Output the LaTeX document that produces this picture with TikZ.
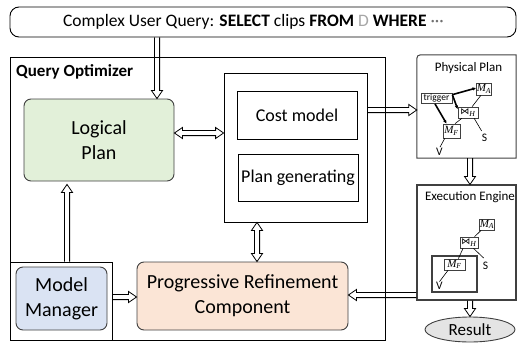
\documentclass[tikz,border=0pt]{standalone}
\usepackage{fontspec}
\setmainfont{Carlito}
\newfontfamily\opfont{Liberation Serif}
\newfontfamily\bowfont{DejaVu Sans}
\usetikzlibrary{calc,arrows.meta,shapes.geometric}

\definecolor{lpgreen}{HTML}{E2F0D9}
\definecolor{mmblue}{HTML}{DAE3F3}
\definecolor{prcorange}{HTML}{FBE5D6}
\definecolor{edge}{HTML}{404040}
\definecolor{resgray}{HTML}{E4E4E4}
\definecolor{faint}{HTML}{A6A6A6}
\definecolor{dotgray}{HTML}{707070}

% operator labels: italic letter with italic subscript
\newcommand{\relname}[2]{{\opfont\itshape #1}\textsubscript{\opfont\itshape #2}}
\newcommand{\hjoin}{{\bowfont\fontsize{9}{10}\selectfont ⋈}\textsubscript{\opfont\itshape H}}

% geometry of the outlined block arrows
\newcommand{\arrhl}{8pt}  % head length
\newcommand{\arrhw}{5.5pt}% head half width
\newcommand{\arrsw}{2.6pt}% shaft half width

% outlined arrow from #1 to #2
\newcommand{\hollowarrow}[2]{%
  \coordinate (ha-s) at (#1);
  \coordinate (ha-t) at (#2);
  \coordinate (ha-b) at ($(ha-t)!\arrhl!(ha-s)$);
  \draw[hollowline]
    ($(ha-s)!\arrsw!90:(ha-t)$) -- ($(ha-b)!\arrsw!90:(ha-t)$)
    -- ($(ha-b)!\arrhw!90:(ha-t)$) -- (ha-t)
    -- ($(ha-b)!\arrhw!-90:(ha-t)$) -- ($(ha-b)!\arrsw!-90:(ha-t)$)
    -- ($(ha-s)!\arrsw!-90:(ha-t)$);
}
% outlined arrow with heads at both ends
\newcommand{\hollowdarrow}[2]{%
  \coordinate (ha-s) at (#1);
  \coordinate (ha-t) at (#2);
  \coordinate (ha-b) at ($(ha-t)!\arrhl!(ha-s)$);
  \coordinate (ha-a) at ($(ha-s)!\arrhl!(ha-t)$);
  \draw[hollowline]
    (ha-s) -- ($(ha-a)!\arrhw!90:(ha-t)$) -- ($(ha-a)!\arrsw!90:(ha-t)$)
    -- ($(ha-b)!\arrsw!90:(ha-t)$) -- ($(ha-b)!\arrhw!90:(ha-t)$)
    -- (ha-t)
    -- ($(ha-b)!\arrhw!-90:(ha-t)$) -- ($(ha-b)!\arrsw!-90:(ha-t)$)
    -- ($(ha-a)!\arrsw!-90:(ha-t)$) -- ($(ha-a)!\arrhw!-90:(ha-t)$)
    -- cycle;
}

\tikzset{
  frame/.style={draw=black, line width=0.8pt, inner sep=0pt},
  roundbox/.style={draw=edge, line width=0.9pt, rounded corners=7pt, align=center, inner sep=0pt},
  bigtext/.style={font=\fontsize{20}{25}\selectfont},
  midtext/.style={font=\fontsize{18}{22}\selectfont},
  smalltitle/.style={font=\fontsize{13}{15}\selectfont, inner sep=0pt},
  hollowline/.style={draw=black, line width=0.8pt, line join=miter},
  tinybox/.style={draw=edge, line width=0.7pt, inner sep=0.3pt, font=\fontsize{11}{12}\selectfont},
  treeline/.style={line width=0.6pt},
  trigline/.style={line width=1.6pt, -{Latex[length=3.5pt,width=3.5pt]}},
  leaf/.style={inner sep=0pt, font=\fontsize{11.5}{13}\selectfont},
}

\begin{document}
\begin{tikzpicture}[x=1pt, y=-1pt]
\useasboundingbox (0,0) rectangle (517,343);

% user query
\node[roundbox, draw=black, rounded corners=9pt, minimum width=506pt, minimum height=30pt,
      font=\fontsize{17.5}{21}\selectfont] (query) at (263,22)
  {Complex User Query: \textbf{SELECT} clips \textbf{FROM} \textcolor{faint}{D} \textbf{WHERE} \textcolor{dotgray}{···}\hspace*{19pt}};

% query optimizer
\node[frame, minimum width=375pt, minimum height=283pt] (qo) at (197.5,198.5) {};
\node[anchor=west, inner sep=0pt, font=\bfseries\fontsize{17}{20}\selectfont] (qolabel) at (16,72) {Query Optimizer};
\node[roundbox, fill=lpgreen, minimum width=150pt, minimum height=82pt, bigtext] (lp) at (99,140) {Logical\\Plan};

\node[frame, minimum width=143pt, minimum height=149pt] (cp) at (295.5,147.5) {};
\node[frame, minimum width=120pt, minimum height=48pt, midtext] (cm) at (297,115) {Cost model};
\node[frame, minimum width=120pt, minimum height=47pt, midtext] (pg) at (298,177.5) {Plan generating};

\node[frame, minimum width=102pt, minimum height=78pt] (mmf) at (61,301) {};
\node[roundbox, fill=mmblue, minimum width=91pt, minimum height=63pt, bigtext] (mm) at (61.5,298.5) {Model\\Manager};
\node[roundbox, fill=prcorange, minimum width=211pt, minimum height=68pt, bigtext] (prc) at (242.5,296) {Progressive Refinement\\Component};

% physical plan
\node[inner sep=0pt, minimum width=99pt, minimum height=103pt] (pp) at (466.5,106.5) {};
\draw[draw=edge, line width=1pt] (pp.south east) -- (pp.south west) -- ([yshift=-8pt]pp.north west)
  .. controls (pp.north west) .. ([xshift=8pt]pp.north west) -- (pp.north east) -- cycle;
\node[smalltitle] (pptitle) at (468.5,68) {Physical Plan};

\node[tinybox, minimum width=31pt, minimum height=10pt, inner sep=0pt, font=\fontsize{9.5}{10}\selectfont] (trig) at (436.5,98.5) {trigger};
\node[tinybox, minimum width=13pt, minimum height=12pt] (pMA) at (484,89) {\relname{M}{A}};
\node[tinybox, minimum width=20pt, minimum height=11pt] (pJ) at (468,112.5) {\hjoin};
\node[tinybox, minimum width=17pt, minimum height=14pt] (pMF) at (451.5,131) {\relname{M}{F}};
\node[leaf] (pS) at (484.5,138) {S};
\node[leaf] (pV) at (439.5,152) {V};

\draw[treeline] ($(pMA.south west)!0.3!(pMA.south east)$) -- ($(pJ.north west)!0.7!(pJ.north east)$);
\draw[treeline] ($(pJ.south west)!0.2!(pJ.south east)$) -- ($(pMF.north west)!0.7!(pMF.north east)$);
\draw[treeline] ($(pJ.south west)!0.8!(pJ.south east)$) -- ([yshift=3pt]pS.north west);
\draw[treeline] ($(pMF.south west)!0.12!(pMF.south east)$) -- ([xshift=0.5pt,yshift=1pt]pV.north);

\draw[trigline] ([yshift=-1.5pt]trig.north east) -- ([yshift=1pt]pMA.west);
\draw[trigline] ([yshift=-1.5pt]trig.north east) -- ([yshift=-2.5pt]pJ.north west);
\draw[trigline] ([xshift=-1.5pt]trig.south) -- ($(pMF.north west)!0.22!(pMF.north east)$);

% execution engine
\node[draw=edge, line width=1.1pt, minimum width=99pt, minimum height=115pt] (ee) at (466.5,242.5) {};
\node[smalltitle] (eetitle) at (470,197) {Execution Engine};

\node[draw=edge, line width=1.1pt, minimum width=45pt, minimum height=36pt] (eframe) at (454.5,274) {};
\node[tinybox, minimum width=14pt, minimum height=11pt] (eMA) at (487,224.5) {\relname{M}{A}};
\node[tinybox, minimum width=18pt, minimum height=11pt] (eJ) at (469,242.5) {\hjoin};
\node[tinybox, minimum width=21pt, minimum height=11pt] (eMF) at (454.5,264.5) {\relname{M}{F}};
\node[leaf] (eS) at (485.5,266) {S};
\node[leaf] (eV) at (439.5,286) {V};

\draw[treeline] ($(eMA.south west)!0.12!(eMA.south east)$) -- ($(eJ.north west)!0.8!(eJ.north east)$);
\draw[treeline] ($(eJ.south west)!0.18!(eJ.south east)$) -- ($(eMF.north west)!0.68!(eMF.north east)$);
\draw[treeline] ($(eJ.south west)!0.74!(eJ.south east)$) -- ([xshift=1pt,yshift=4pt]eS.north west);
\draw[treeline] ($(eMF.south west)!0.2!(eMF.south east)$) -- ([yshift=0.5pt]eV.north);

\node[ellipse, draw=edge, line width=0.9pt, fill=resgray, inner sep=0pt, minimum width=90pt, minimum height=25pt,
      font=\fontsize{17}{20}\selectfont] (res) at (470,329.5) {Result};

% connectors
\coordinate (xq) at (157,0);
\coordinate (xm) at (67,0);
\coordinate (yl) at (0,133);
\coordinate (xv) at (257,0);
\coordinate (yp) at (0,110);
\coordinate (ym) at (0,297);
\coordinate (ye) at (0,295);
\coordinate (xe) at (470,0);

\hollowarrow{query.south -| xq}{lp.north -| xq}
\hollowarrow{mmf.north -| xm}{$(lp.south -| xm)+(0,-3pt)$}
\hollowdarrow{lp.east |- yl}{cp.west |- yl}
\hollowdarrow{cp.south -| xv}{prc.north -| xv}
\hollowarrow{cp.east |- yp}{pp.west |- yp}
\hollowarrow{mmf.east |- ym}{prc.west |- ym}
\hollowarrow{ee.west |- ye}{prc.east |- ye}
\hollowarrow{pp.south -| xe}{ee.north -| xe}
\hollowarrow{ee.south -| xe}{res.north}
\end{tikzpicture}
\end{document}
